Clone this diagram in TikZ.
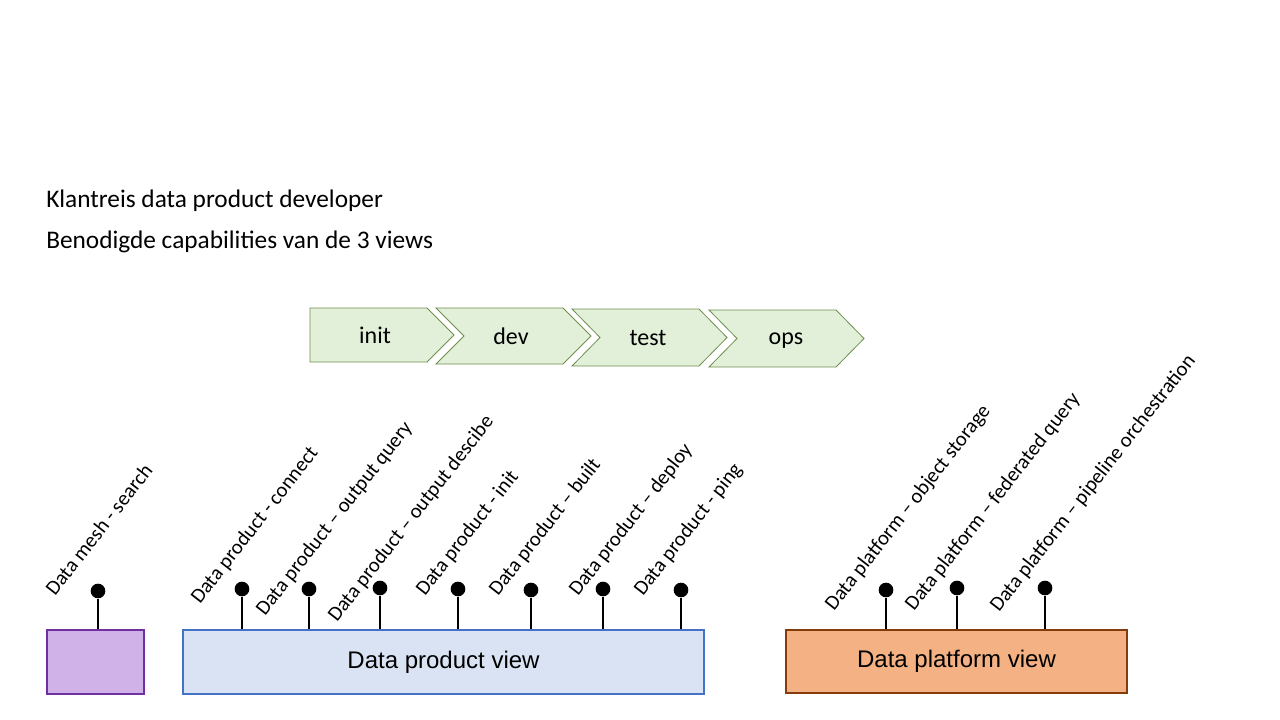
\documentclass[tikz,border=0pt]{standalone}
\usepackage{fontspec}
\setmainfont{Carlito}
\newfontfamily\arialfont{Liberation Sans}
\usepackage{tikz}
\usetikzlibrary{positioning}
\usetikzlibrary{calc}

\definecolor{chevfill}{HTML}{E2F0D9}
\definecolor{chevline}{HTML}{6E8F4E}
\definecolor{meshfill}{HTML}{D1B2E8}
\definecolor{meshline}{HTML}{7030A0}
\definecolor{prodfill}{HTML}{DAE3F3}
\definecolor{prodline}{HTML}{4472C4}
\definecolor{platfill}{HTML}{F4B183}
\definecolor{platline}{HTML}{843C0C}

\tikzset{
  chev/.style={draw=chevline,fill=chevfill,line width=0.6pt},
  chevtext/.style={anchor=base,font=\fontsize{18}{21}\selectfont,inner sep=0},
  heading/.style={anchor=base west,inner sep=0,font=\fontsize{19}{22}\selectfont},
  viewbox/.style={draw,line width=1.2pt,minimum height=48pt,inner sep=0,
    font=\arialfont\fontsize{18}{21}\selectfont},
  dot/.style={circle,fill=black,inner sep=0,minimum size=11pt},
  stem/.style={line width=1.4pt},
  lbl/.style={rotate=52,anchor=base west,inner sep=0,font=\fontsize{15.5}{18}\selectfont}
}

\begin{document}
\begin{tikzpicture}[x=0.75pt,y=-0.75pt]
\useasboundingbox (0,0) rectangle (1280,720);

\node[heading] (title) at (46,208) {Klantreis data product developer};
\node[heading] (subtitle) at (46,248) {Benodigde capabilities van de 3 views};

% fases
\draw[chev] (310,308) -- (427,308) -- (454,335) -- (427,362) -- (310,362) -- cycle;
\draw[chev] (436,308) -- (563,308) -- (591,336) -- (563,364) -- (436,364) -- (464,336) -- cycle;
\draw[chev] (572,309) -- (699,309) -- (727,337.5) -- (699,366) -- (572,366) -- (600,337.5) -- cycle;
\draw[chev] (709,310) -- (836,310) -- (864,338.5) -- (836,367) -- (709,367) -- (737,338.5) -- cycle;
\node[chevtext] (init) at (375,343) {init};
\node[chevtext] (dev) at (511,344) {dev};
\node[chevtext] (test) at (648,345) {test};
\node[chevtext] (ops) at (786,344) {ops};

% views
\node[viewbox,draw=meshline,fill=meshfill,minimum width=72.75pt] (mesh) at (95.5,662) {};
\node[viewbox,draw=prodline,fill=prodfill,minimum width=390.75pt] (prod) at (443.5,662) {Data product view};
\node[viewbox,draw=platline,fill=platfill,minimum width=255.75pt,minimum height=47.25pt] (plat) at (956.5,661.5) {Data platform view};

% capabilities
\node[dot] (search) at (98,591) {};
\node[dot] (connect) at (242,589) {};
\node[dot] (query) at (309,589) {};
\node[dot] (descr) at (380,588) {};
\node[dot] (pinit) at (458,589) {};
\node[dot] (built) at (531,590) {};
\node[dot] (deploy) at (603,589) {};
\node[dot] (ping) at (681,590) {};
\node[dot] (storage) at (886,590) {};
\node[dot] (fedq) at (957,588) {};
\node[dot] (orch) at (1045,588) {};

\draw[stem] (search) -- (search |- mesh.north);
\draw[stem] (connect) -- (connect |- prod.north);
\draw[stem] (query) -- (query |- prod.north);
\draw[stem] (descr) -- (descr |- prod.north);
\draw[stem] (pinit) -- (pinit |- prod.north);
\draw[stem] (built) -- (built |- prod.north);
\draw[stem] (deploy) -- (deploy |- prod.north);
\draw[stem] (ping) -- (ping |- prod.north);
\draw[stem] (storage) -- (storage |- plat.north);
\draw[stem] (fedq) -- (fedq |- plat.north);
\draw[stem] (orch) -- (orch |- plat.north);

\node[lbl] (lsearch) at (55,597) {Data mesh - search};
\node[lbl] (lconnect) at (200,605) {Data product - connect};
\node[lbl] (lquery) at (265,617) {Data product – output query};
\node[lbl] (ldescr) at (337,623) {Data product – output descibe};
\node[lbl] (linit) at (425,597) {Data product - init};
\node[lbl] (lbuilt) at (498,597) {Data product – built};
\node[lbl] (ldeploy) at (578,597) {Data product – deploy};
\node[lbl] (lping) at (643,597) {Data product - ping};
\node[lbl] (lstorage) at (834,612) {Data platform – object storage};
\node[lbl] (lfedq) at (914,612) {Data platform – federated query};
\node[lbl] (lorch) at (999,613) {Data platform – pipeline orchestration};
\end{tikzpicture}
\end{document}
